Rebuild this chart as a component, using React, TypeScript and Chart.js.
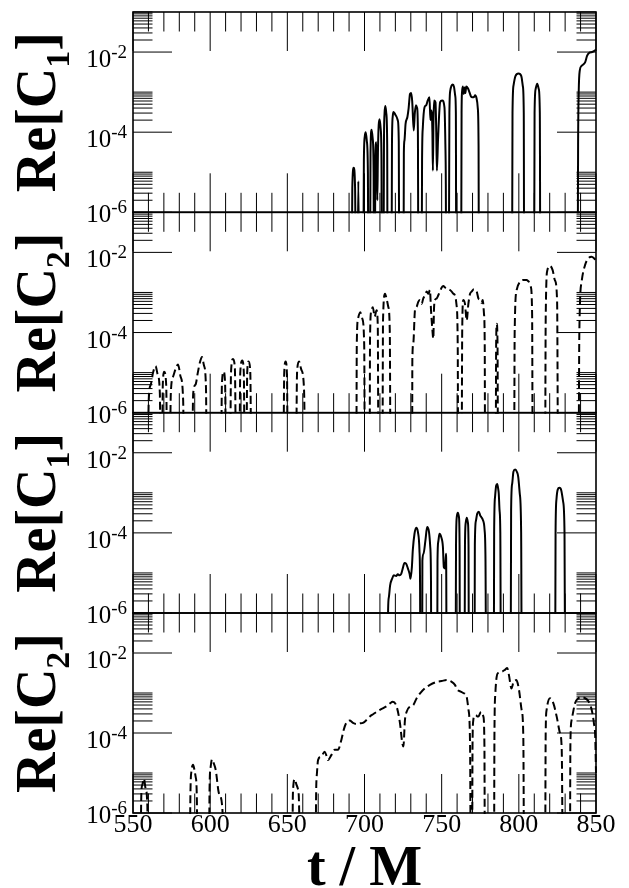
import React, { useEffect, useRef } from 'react';
import { Chart, registerables } from 'chart.js';

Chart.register(...registerables);

const WIDTH = 629;
const HEIGHT = 888;

const T_MIN = 550;
const T_MAX = 850;
const Y_MIN = 1e-6;
const Y_MAX = 1e-1;
// Re[C] changes sign here: on a log axis the curve drops off the bottom
const B = 1e-9;

const xLabelTicks = [550, 600, 650, 700, 750, 800, 850];
const xMinorStep = 10;
const yLabelExponents = [-6, -4, -2];
const yMinorMultipliers = [2, 3, 4, 5, 6, 7, 8, 9, 10];

// [t/M, Re[C1]] first run
const reC1Upper: [number, number][] = [
  [691.5, B], [692.1, 4e-6], [693.0, 1.3e-5], [693.9, 4e-6], [694.6, B],
  [695.2, B], [696.0, 6e-6], [696.9, B],
  [699.0, B], [699.6, 2e-5], [700.2, 8e-5], [700.8, 1.0e-4], [701.5, 6e-5], [702.2, 1e-5], [702.6, B],
  [703.4, B], [703.9, 3e-5], [704.6, 1.15e-4], [705.3, 7e-5], [705.9, 1e-5], [706.2, B],
  [706.6, B], [707.0, 2e-5], [707.6, 5.6e-5], [708.0, 1.5e-5], [708.3, 2e-6], [708.7, 3e-5], [709.2, 1.5e-4],
  [709.8, 2.1e-4], [710.5, 1.2e-4], [711.0, 2e-5], [711.3, B],
  [712.2, B], [712.6, 5e-5], [713.0, 3e-4], [713.5, 4.5e-4], [714.1, 3e-4], [714.7, 5e-5], [715.0, B],
  [717.4, B], [717.8, 5e-5], [718.3, 2.5e-4], [718.8, 3.2e-4], [719.6, 2.9e-4], [720.6, 2.5e-4], [721.6, 1.95e-4],
  [722.2, 6e-5], [722.6, B],
  [725.2, B], [725.5, 3e-5], [725.9, 6.2e-5], [726.6, 1.6e-4], [727.8, 2.4e-4], [728.6, 4e-4], [729.5, 9e-4],
  [730.2, 9.5e-4], [730.9, 6e-4], [731.9, 1.1e-4], [732.6, 3e-4], [733.4, 4.7e-4], [734.1, 4e-4], [734.6, 1e-4], [735.0, B],
  [736.9, B], [737.3, 2e-5], [737.8, 1.33e-4], [738.9, 4.2e-4], [740.0, 4.7e-4], [741.0, 6.2e-4], [742.1, 7.4e-4],
  [742.7, 2e-4], [743.3, 3.5e-4], [744.0, 1e-4], [744.3, 1.1e-5], [744.7, 2e-4], [745.1, 6.2e-4], [746.0, 5.6e-4],
  [746.5, 1e-4], [746.9, 1.1e-5], [747.7, 7.5e-5], [749.0, 5.6e-4], [750.3, 6.2e-4], [751.8, 4.2e-4], [752.4, 5e-5],
  [752.7, 5e-6], [753.0, B],
  [754.5, B], [755.0, 3e-4], [755.6, 1.1e-3], [756.4, 1.45e-3], [757.2, 1.55e-3], [758.0, 1.35e-3], [758.8, 8e-4],
  [759.2, 3e-4], [759.5, B],
  [762.5, B], [762.9, 3e-4], [763.2, 1.0e-3], [763.7, 1.38e-3], [764.3, 9e-4], [764.9, 1.3e-3], [765.4, 9.5e-4],
  [765.9, 1.38e-3], [767.0, 1.25e-3], [768.0, 1.0e-3], [769.0, 7.8e-4], [769.8, 7.4e-4], [771.0, 7.6e-4],
  [771.7, 8.3e-4], [772.6, 7e-4], [773.4, 4e-4], [773.9, 5e-5], [774.2, B],
  [795.5, B], [795.9, 3e-4], [796.6, 1.5e-3], [797.8, 2.5e-3], [799.8, 2.9e-3], [801.6, 2.5e-3], [802.6, 1.4e-3],
  [803.2, 3e-4], [803.5, B],
  [809.8, B], [810.2, 3e-4], [810.9, 1.2e-3], [811.9, 1.62e-3], [812.9, 1.2e-3], [813.6, 3e-4], [814.0, B],
  [838.0, B], [838.4, 5e-5], [838.8, 1e-3], [839.5, 3.5e-3], [840.6, 4.5e-3], [842.0, 5e-3], [843.0, 5.6e-3],
  [844.2, 8e-3], [845.5, 9.5e-3], [847.5, 1.0e-2], [849.4, 1.1e-2], [850.0, 1.15e-2],
];

// [t/M, Re[C2]] first run
const reC2Upper: [number, number][] = [
  [559.3, B], [560.2, 2e-6], [561.5, 5e-6], [563.0, 1.0e-5], [564.6, 1.45e-5], [566.0, 9e-6], [567.4, 3e-6], [568.2, B],
  [568.6, B], [569.3, 5e-6], [570.2, 1.05e-5], [571.5, 5e-6], [572.6, B],
  [573.4, B], [574.5, 3e-6], [576.0, 8e-6], [577.5, 1.2e-5], [579.2, 1.6e-5], [580.8, 8e-6], [582.5, 2e-6], [583.4, B],
  [587.8, B], [589.0, 3e-6], [590.5, 5e-6], [592.0, 1e-5], [593.5, 1.9e-5], [594.7, 2.45e-5], [596.0, 1.5e-5],
  [597.3, 4e-6], [598.0, B],
  [606.8, B], [607.6, 5e-6], [608.7, 1.05e-5], [609.7, 5e-6], [610.5, B],
  [612.6, B], [613.5, 1e-5], [614.8, 2.2e-5], [616.0, 1.3e-5], [617.2, B],
  [618.6, B], [619.5, 1e-5], [620.8, 2.0e-5], [621.8, 1e-5], [622.6, B],
  [623.2, B], [624.0, 1e-5], [624.9, 1.9e-5], [626.0, 1e-5], [627.0, B],
  [647.1, B], [648.0, 1e-5], [648.9, 1.9e-5], [649.8, 8e-6], [650.5, B],
  [655.3, B], [656.3, 1e-5], [657.6, 1.9e-5], [659.0, 1.2e-5], [660.8, 4e-6], [662.2, B],
  [694.6, B], [695.0, 5e-5], [695.8, 2.2e-4], [697.2, 3.2e-4], [698.6, 2.2e-4], [699.8, 5e-5], [700.4, B],
  [703.2, B], [703.6, 8e-5], [704.4, 3.4e-4], [705.4, 4.3e-4], [706.6, 2.5e-4], [707.8, 3.6e-4], [708.6, 1.5e-4], [709.2, B],
  [711.5, B], [712.0, 2e-4], [713.3, 9.3e-4], [714.3, 7e-4], [715.4, 4.4e-4], [716.4, 1e-4], [717.0, B],
  [730.8, B], [731.0, 2e-5], [731.6, 5.2e-5], [732.7, 3.6e-4], [733.8, 4.4e-4], [734.9, 5.9e-4], [736.0, 6.5e-4],
  [737.0, 5.2e-4], [738.1, 7.1e-4], [739.2, 8.5e-4], [740.3, 1.05e-3], [741.4, 9.3e-4], [742.4, 1.15e-3],
  [743.1, 3.6e-4], [744.0, 1.15e-4], [744.6, 7e-5], [745.0, 3.6e-4], [745.7, 6.5e-4], [746.8, 7.1e-4],
  [747.8, 8.5e-4], [748.9, 1.05e-3], [750.0, 1.33e-3], [751.1, 1.45e-3], [752.2, 1.33e-3], [753.2, 1.26e-3],
  [755.4, 1.15e-3], [756.5, 1.05e-3], [757.6, 9.3e-4], [758.6, 8.5e-4], [759.6, 5e-4], [760.4, 5e-5], [760.8, B],
  [762.8, B], [763.3, 1e-4], [764.0, 6.5e-4], [765.1, 5.2e-4], [766.2, 2e-4], [767.3, 5.2e-4], [768.4, 9.3e-4],
  [769.4, 1.05e-3], [770.9, 1.2e-3], [772.7, 1.05e-3], [773.8, 7.1e-4], [774.8, 6.5e-4], [775.8, 5.5e-4],
  [776.6, 6.5e-4], [777.4, 3e-4], [777.9, 5e-5], [778.2, B],
  [784.9, B], [785.3, 5e-5], [785.7, 1.65e-4], [786.2, 5e-5], [786.6, B],
  [796.8, B], [797.3, 1e-4], [798.6, 1.15e-3], [800.8, 1.85e-3], [802.9, 2.05e-3], [805.0, 2.05e-3],
  [806.2, 1.9e-3], [807.7, 1.4e-3], [808.6, 3e-4], [809.1, B],
  [816.9, B], [817.4, 2e-4], [818.5, 3.6e-3], [820.2, 4.6e-3], [821.9, 3.6e-3], [823.4, 2e-3], [824.8, 6e-4], [825.6, B],
  [838.5, B], [839.2, 1e-4], [840.8, 2.0e-3], [842.9, 4.8e-3], [845.0, 7.1e-3], [847.2, 7.8e-3], [849.6, 6.6e-3],
  [850.0, 6.3e-3],
];

// [t/M, Re[C1]] second run
const reC1Lower: [number, number][] = [
  [714.9, B], [715.3, 1.2e-6], [715.8, 2.5e-6], [716.6, 4.9e-6], [717.9, 7.2e-6], [719.0, 8.7e-6], [720.5, 8.4e-6],
  [721.6, 9.3e-6], [722.7, 8.7e-6], [723.8, 9.5e-6], [724.8, 1.3e-5], [725.9, 1.78e-5], [727.0, 1.7e-5],
  [728.1, 1.3e-5], [729.2, 9.5e-6], [729.8, 7.2e-6], [730.7, 1.4e-5], [731.3, 3.7e-5], [732.4, 9.5e-5],
  [733.5, 1.35e-4], [734.6, 1.06e-4], [735.6, 3.7e-5], [736.0, 5e-6], [736.3, B],
  [737.3, B], [737.5, 2e-5], [738.2, 3e-5], [739.5, 6.6e-5], [740.6, 1.4e-4], [741.8, 1.05e-4], [742.6, 4.5e-5],
  [743.1, 5e-6], [743.3, B],
  [747.0, B], [747.3, 2e-5], [747.8, 6e-5], [748.6, 9.5e-5], [749.7, 7.9e-5], [750.8, 4.5e-5], [751.4, 1.4e-5],
  [752.3, 1.3e-5], [752.8, 3e-5], [753.0, 5e-6], [753.2, B],
  [758.9, B], [759.3, 5e-5], [759.8, 2.5e-4], [760.5, 3.2e-4], [761.2, 2.5e-4], [761.6, 5e-5], [761.9, B],
  [764.7, B], [765.1, 5e-5], [765.6, 1.8e-4], [766.3, 2.4e-4], [767.0, 1.8e-4], [767.4, 5e-5], [767.7, B],
  [771.2, B], [771.5, 5e-5], [772.2, 2e-4], [773.0, 3e-4], [774.1, 3.35e-4], [775.0, 2.7e-4], [775.6, 2.5e-4],
  [776.7, 2.1e-4], [777.8, 1.2e-4], [778.4, 2e-5], [779.0, B],
  [783.7, B], [784.0, 1e-4], [784.6, 8e-4], [785.3, 1.5e-3], [786.0, 1.66e-3], [786.7, 1.2e-3], [787.0, 9.5e-4],
  [787.5, 3.7e-4], [788.0, 1e-4], [788.5, B],
  [794.6, B], [795.0, 3.7e-4], [795.7, 1.7e-3], [796.5, 3.35e-3], [797.6, 3.8e-3], [798.8, 3.3e-3], [799.6, 2.5e-3],
  [800.6, 9.5e-4], [801.5, 1e-4], [802.0, B],
  [823.4, B], [823.8, 1e-4], [824.4, 7e-4], [825.2, 1.2e-3], [826.3, 1.33e-3], [827.5, 1.15e-3], [828.7, 6e-4],
  [829.6, 1e-4], [830.1, B],
];

// [t/M, Re[C2]] second run
const reC2Lower: [number, number][] = [
  [554.6, B], [555.4, 3e-6], [556.0, 5e-6], [557.1, 7.2e-6], [558.2, 4e-6], [559.3, 1.5e-6], [559.8, B],
  [586.5, B], [587.2, 3e-6], [588.0, 1.2e-5], [588.9, 1.6e-5], [589.8, 1.2e-5], [590.6, 8e-6], [591.4, 2e-6], [591.8, B],
  [599.0, B], [599.6, 4e-6], [600.3, 1.4e-5], [601.2, 2.2e-5], [602.2, 1.8e-5], [603.6, 1.2e-5], [605.7, 3.1e-6],
  [607.9, 1.3e-6], [609.5, B],
  [653.0, B], [653.6, 3e-6], [654.8, 7e-6], [656.0, 5e-6], [656.9, 4e-6], [657.7, 1e-6], [658.0, B],
  [668.2, B], [668.6, 2e-6], [669.2, 1e-5], [669.9, 2.1e-5], [672.0, 2.6e-5], [674.2, 3.4e-5], [675.5, 2.6e-5],
  [676.3, 2.1e-5], [678.5, 2.8e-5], [680.7, 3.8e-5], [682.8, 3.8e-5], [685.0, 6.7e-5], [686.5, 1.19e-4],
  [688.2, 1.8e-4], [690.4, 2.05e-4], [692.5, 1.8e-4], [694.7, 1.68e-4], [696.9, 1.74e-4], [699.0, 1.8e-4],
  [701.2, 2.1e-4], [703.5, 2.6e-4], [705.6, 2.95e-4], [707.9, 3.4e-4], [710.0, 3.8e-4], [712.2, 4.2e-4],
  [714.4, 4.7e-4], [716.5, 5.5e-4], [718.3, 6e-4], [720.8, 4.6e-4], [723.0, 1.74e-4], [724.5, 5.5e-5],
  [725.2, 4.6e-5], [726.2, 2.1e-4], [727.3, 3.4e-4], [729.5, 4.6e-4], [731.6, 5e-4], [733.8, 7.4e-4],
  [736.0, 9.8e-4], [739.2, 1.32e-3], [742.4, 1.6e-3], [746.8, 1.9e-3], [750.0, 2.0e-3], [753.2, 2.1e-3],
  [756.5, 1.9e-3], [758.6, 1.6e-3], [760.2, 1.2e-3], [762.0, 1.1e-3], [764.0, 1.0e-3], [766.2, 8e-4],
  [767.3, 4e-4], [768.4, 5e-5], [769.0, B],
  [769.6, B], [770.0, 5e-5], [770.5, 2.1e-4], [771.2, 2.6e-4], [772.2, 2.8e-4], [773.0, 2.6e-4], [773.8, 2.6e-4],
  [775.5, 3.4e-4], [777.0, 2.6e-4], [777.7, 5e-5], [778.1, B],
  [783.8, B], [784.2, 1e-4], [784.8, 1e-3], [785.6, 2.5e-3], [786.7, 3.2e-3], [788.9, 3.4e-3], [791.0, 3.8e-3],
  [792.5, 4.2e-3], [793.6, 2.8e-3], [795.2, 1.3e-3], [796.6, 1.9e-3], [798.4, 2.1e-3], [800.1, 1.2e-3],
  [801.8, 3.8e-4], [802.9, 8e-5], [803.6, B],
  [816.9, B], [817.4, 1e-4], [818.0, 3.8e-4], [820.2, 7.4e-4], [822.4, 5.5e-4], [824.5, 2.6e-4], [826.7, 9.8e-5],
  [827.8, 3.8e-5], [828.8, B],
  [833.0, B], [833.4, 5e-5], [834.2, 2.1e-4], [836.4, 5.5e-4], [838.6, 7.4e-4], [840.7, 7.8e-4], [842.9, 7.4e-4],
  [845.0, 6.3e-4], [847.2, 3.8e-4], [848.7, 1.7e-4], [849.5, 8e-5], [850.0, 1e-5],
];

// page geometry of the stacked plot frames
const PLOT_LEFT = 133;
const PLOT_RIGHT = 596;
const panelEdges = [12, 212.3, 412.7, 613, 813];

const MAJOR_TICK = 39;
const MINOR_TICK = 19.5;
const SERIF = '"Liberation Serif", "Times New Roman", serif';

type Panel = {
  sub: string;
  data: [number, number][];
  dashed: boolean;
  top: number;
  bottom: number;
  showX: boolean;
};

const panels: Panel[] = [
  { sub: '1', data: reC1Upper, dashed: false, top: panelEdges[0], bottom: panelEdges[1], showX: false },
  { sub: '2', data: reC2Upper, dashed: true, top: panelEdges[1], bottom: panelEdges[2], showX: false },
  { sub: '1', data: reC1Lower, dashed: false, top: panelEdges[2], bottom: panelEdges[3], showX: false },
  { sub: '2', data: reC2Lower, dashed: true, top: panelEdges[3], bottom: panelEdges[4], showX: true },
];

function frameAndLabels(panel: Panel) {
  return {
    id: 'frameAndLabels',
    afterDatasetsDraw(chart: Chart) {
      const { ctx, chartArea: a } = chart;
      const xs = chart.scales.x;
      const ys = chart.scales.y;
      ctx.save();

      // inward ticks on all four sides
      ctx.strokeStyle = '#000';
      ctx.lineWidth = 1;
      ctx.beginPath();
      for (let t = T_MIN; t <= T_MAX; t += xMinorStep) {
        const px = xs.getPixelForValue(t);
        const len = xLabelTicks.includes(t) ? MAJOR_TICK : MINOR_TICK;
        ctx.moveTo(px, a.bottom);
        ctx.lineTo(px, a.bottom - len);
        ctx.moveTo(px, a.top);
        ctx.lineTo(px, a.top + len);
      }
      for (const e of yLabelExponents) {
        const base = Math.pow(10, e);
        const py = ys.getPixelForValue(base);
        ctx.moveTo(a.left, py);
        ctx.lineTo(a.left + MAJOR_TICK, py);
        ctx.moveTo(a.right, py);
        ctx.lineTo(a.right - MAJOR_TICK, py);
        for (const k of yMinorMultipliers) {
          const pm = ys.getPixelForValue(k * base);
          ctx.moveTo(a.left, pm);
          ctx.lineTo(a.left + MINOR_TICK, pm);
          ctx.moveTo(a.right, pm);
          ctx.lineTo(a.right - MINOR_TICK, pm);
        }
      }
      ctx.stroke();

      ctx.lineWidth = 1.6;
      ctx.strokeRect(a.left, a.top, a.right - a.left, a.bottom - a.top);

      // y tick labels: 10 with a raised exponent
      ctx.fillStyle = '#000';
      ctx.textBaseline = 'alphabetic';
      ctx.textAlign = 'left';
      for (const e of yLabelExponents) {
        const py = ys.getPixelForValue(Math.pow(10, e));
        const sup = String(e);
        ctx.font = `25px ${SERIF}`;
        const w1 = ctx.measureText('10').width;
        ctx.font = `19px ${SERIF}`;
        const w2 = ctx.measureText(sup).width;
        const right = a.left - 6;
        const baseline = py + (e === -6 ? 10 : 15);
        ctx.font = `25px ${SERIF}`;
        ctx.fillText('10', right - w2 - w1, baseline);
        ctx.font = `19px ${SERIF}`;
        ctx.fillText(sup, right - w2, baseline - 9);
      }

      // y title Re[C_n], rotated
      ctx.save();
      ctx.translate(55, (a.top + a.bottom) / 2);
      ctx.rotate(-Math.PI / 2);
      const mainFont = `bold 56px ${SERIF}`;
      const subFont = `bold 34px ${SERIF}`;
      ctx.font = mainFont;
      const wa = ctx.measureText('Re[C').width;
      const wc = ctx.measureText(']').width;
      ctx.font = subFont;
      const wb = ctx.measureText(panel.sub).width;
      let x0 = -(wa + wb + wc) / 2;
      ctx.font = mainFont;
      ctx.fillText('Re[C', x0, 0);
      x0 += wa;
      ctx.font = subFont;
      ctx.fillText(panel.sub, x0, 14);
      x0 += wb;
      ctx.font = mainFont;
      ctx.fillText(']', x0, 0);
      ctx.restore();

      if (panel.showX) {
        ctx.textAlign = 'center';
        ctx.font = `26px ${SERIF}`;
        for (const t of xLabelTicks) {
          ctx.fillText(String(t), xs.getPixelForValue(t), a.bottom + 19);
        }
        ctx.font = `bold 56px ${SERIF}`;
        ctx.fillText('t / M', (a.left + a.right) / 2, a.bottom + 72);
      }
      ctx.restore();
    },
  };
}

function PanelChart({ panel }: { panel: Panel }) {
  const ref = useRef<HTMLCanvasElement | null>(null);
  useEffect(() => {
    const canvas = ref.current;
    if (!canvas) return;
    const chart = new Chart(canvas, {
      type: 'line',
      data: {
        datasets: [
          {
            data: panel.data.map(([x, y]) => ({ x, y })),
            borderColor: '#000',
            borderWidth: 2,
            borderDash: panel.dashed ? [8, 4] : [],
            pointRadius: 0,
            fill: false,
            cubicInterpolationMode: 'monotone',
            clip: 1,
          },
        ],
      },
      options: {
        animation: false,
        responsive: false,
        events: [],
        layout: {
          padding: {
            left: PLOT_LEFT,
            right: WIDTH - PLOT_RIGHT,
            top: panel.top,
            bottom: HEIGHT - panel.bottom,
          },
        },
        scales: {
          x: { type: 'linear', min: T_MIN, max: T_MAX, display: false },
          y: { type: 'logarithmic', min: Y_MIN, max: Y_MAX, display: false },
        },
        plugins: {
          legend: { display: false },
          tooltip: { enabled: false },
        },
      },
      plugins: [frameAndLabels(panel)],
    });
    return () => chart.destroy();
  }, [panel]);
  return (
    <canvas
      ref={ref}
      width={WIDTH}
      height={HEIGHT}
      style={{ position: 'absolute', left: 0, top: 0, width: WIDTH, height: HEIGHT }}
    />
  );
}

export default function App() {
  return (
    <div style={{ position: 'absolute', left: 0, top: 0, width: WIDTH, height: HEIGHT, background: '#fff' }}>
      {panels.map((p, i) => (
        <PanelChart key={i} panel={p} />
      ))}
    </div>
  );
}
